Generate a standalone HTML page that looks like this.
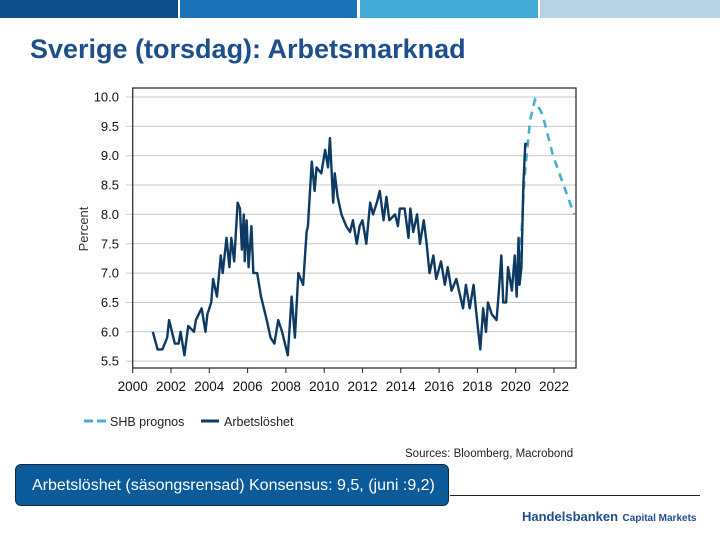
<!DOCTYPE html>
<html><head><meta charset="utf-8"><style>
body{margin:0;width:720px;height:540px;background:#fff;font-family:"Liberation Sans",sans-serif;overflow:hidden;position:relative}
.bar{position:absolute;top:0;height:18px}
</style></head><body>
<div class="bar" style="left:0;width:178px;background:#0d4f8b"></div>
<div class="bar" style="left:180px;width:177px;background:#1a73b6"></div>
<div class="bar" style="left:360px;width:178px;background:#41aad6"></div>
<div class="bar" style="left:540px;width:180px;background:#b7d3e4"></div>
<div style="position:absolute;left:30px;top:34px;font-size:27px;font-weight:bold;color:#1c4f8c;white-space:nowrap">Sverige (torsdag): Arbetsmarknad</div>
<svg id="chart" width="720" height="540" style="position:absolute;left:0;top:0" xmlns="http://www.w3.org/2000/svg"></svg>
<div style="position:absolute;left:15px;top:464px;width:434px;height:42px;background:#0b5a9a;border:1.5px solid #0a2a44;border-radius:6px;color:#fff;font-size:16px;line-height:42px;padding-left:16px;box-sizing:border-box;white-space:nowrap">Arbetslöshet (säsongsrensad) Konsensus: 9,5, (juni :9,2)</div>
<div style="position:absolute;left:450px;top:495px;width:250px;height:1px;background:#222"></div>
<div style="position:absolute;left:522px;top:508px;color:#1c4f8c;white-space:nowrap"><b style="font-size:13px">Handelsbanken</b> <span style="font-size:10px;font-weight:bold">Capital Markets</span></div>
<script>
const histYears=[2001.05,2001.3,2001.55,2001.8,2001.9,2002.2,2002.4,2002.5,2002.7,2002.9,2003.2,2003.3,2003.6,2003.8,2003.9,2004.1,2004.2,2004.4,2004.6,2004.7,2004.9,2005.05,2005.15,2005.3,2005.48,2005.6,2005.7,2005.8,2005.85,2005.95,2006.05,2006.2,2006.3,2006.5,2006.65,2006.7,2007.0,2007.2,2007.4,2007.6,2007.8,2007.95,2008.1,2008.3,2008.47,2008.65,2008.9,2009.08,2009.15,2009.35,2009.5,2009.6,2009.85,2010.05,2010.2,2010.3,2010.47,2010.55,2010.7,2010.9,2011.15,2011.35,2011.5,2011.7,2011.85,2012.0,2012.2,2012.4,2012.55,2012.75,2012.9,2013.1,2013.25,2013.4,2013.7,2013.85,2013.95,2014.2,2014.4,2014.5,2014.65,2014.85,2015.0,2015.2,2015.35,2015.5,2015.7,2015.85,2016.1,2016.3,2016.45,2016.65,2016.9,2017.25,2017.4,2017.6,2017.8,2017.95,2018.15,2018.3,2018.45,2018.55,2018.75,2019.0,2019.1,2019.25,2019.35,2019.5,2019.6,2019.8,2019.95,2020.05,2020.15,2020.2,2020.3,2020.4,2020.5,2020.6];
const histValues=[6.0,5.7,5.7,5.9,6.2,5.8,5.8,6.0,5.6,6.1,6.0,6.2,6.4,6.0,6.3,6.5,6.9,6.6,7.3,7.0,7.6,7.1,7.6,7.2,8.2,8.1,7.4,8.0,7.2,7.9,7.1,7.8,7.0,7.0,6.7,6.6,6.2,5.9,5.8,6.2,6.0,5.8,5.6,6.6,5.9,7.0,6.8,7.7,7.8,8.9,8.4,8.8,8.7,9.1,8.8,9.3,8.2,8.7,8.3,8.0,7.8,7.7,7.9,7.5,7.8,7.9,7.5,8.2,8.0,8.2,8.4,7.9,8.3,7.9,8.0,7.8,8.1,8.1,7.6,8.1,7.7,8.0,7.5,7.9,7.5,7.0,7.3,6.9,7.2,6.8,7.1,6.7,6.9,6.4,6.8,6.4,6.8,6.3,5.7,6.4,6.0,6.5,6.3,6.2,6.6,7.3,6.5,6.5,7.1,6.7,7.3,6.6,7.6,6.8,7.1,8.5,9.2,9.2];
const fcYears=[2020.2,2020.45,2020.75,2021.0,2021.4,2021.95,2022.5,2023.05];
const fcValues=[7.0,8.6,9.6,9.95,9.7,9.0,8.5,8.0];
const yTicks=[5.5,6.0,6.5,7.0,7.5,8.0,8.5,9.0,9.5,10.0];
const xTicks=[2000,2002,2004,2006,2008,2010,2012,2014,2016,2018,2020,2022];
const NS="http://www.w3.org/2000/svg";
const svg=document.getElementById('chart');
const X=y=>132.7+(y-2000)*19.15;
const Y=v=>97-(v-10)*58.7;
function mk(t,a){const e=document.createElementNS(NS,t);for(const k in a)e.setAttribute(k,a[k]);svg.appendChild(e);return e;}
yTicks.forEach(v=>{
 const g=mk('line',{x1:126,x2:576,y1:Y(v),y2:Y(v),stroke:'#c8c8c8','stroke-width':1});
 
 
 const t=mk('text',{x:119,y:Y(v)+4.5,'text-anchor':'end','font-size':13,fill:'#111'});t.textContent=v.toFixed(1);
 
 
});
const fr=mk('rect',{x:132.7,y:88,width:443.3,height:280,fill:'none',stroke:'#222','stroke-width':1.2});


xTicks.forEach(yr=>{
 mk('line',{x1:X(yr),x2:X(yr),y1:368,y2:373,stroke:'#222'});
 const t=mk('text',{x:X(yr),y:391,'text-anchor':'middle','font-size':13.5,fill:'#111'});t.textContent=yr;
 
 
});
const yl=mk('text',{x:0,y:0,transform:'translate(88,229) rotate(-90)','text-anchor':'middle','font-size':13,fill:'#333'});yl.textContent='Percent';


const fp=mk('path',{d:fcYears.map((y,i)=>(i?'L':'M')+X(y)+','+Y(fcValues[i])).join(''),fill:'none',stroke:'#4aaed0','stroke-width':2.6,'stroke-dasharray':'8,6'});


const hp=mk('path',{d:histYears.map((y,i)=>(i?'L':'M')+X(y)+','+Y(histValues[i])).join(''),fill:'none',stroke:'#0c3a63','stroke-width':2.4,'stroke-linejoin':'round'});


const l1=mk('line',{x1:84,x2:106,y1:421,y2:421,stroke:'#4aaed0','stroke-width':3,'stroke-dasharray':'9,4'});


const lt1=mk('text',{x:110,y:426,'font-size':12.5,fill:'#222'});lt1.textContent='SHB prognos';


const l2=mk('line',{x1:201,x2:219,y1:421,y2:421,stroke:'#0c3a63','stroke-width':3});


const lt2=mk('text',{x:224,y:426,'font-size':12.5,fill:'#222'});lt2.textContent='Arbetslöshet';


const src=mk('text',{x:405,y:457,'font-size':11.5,fill:'#222'});src.textContent='Sources: Bloomberg, Macrobond';


</script>
</body></html>
